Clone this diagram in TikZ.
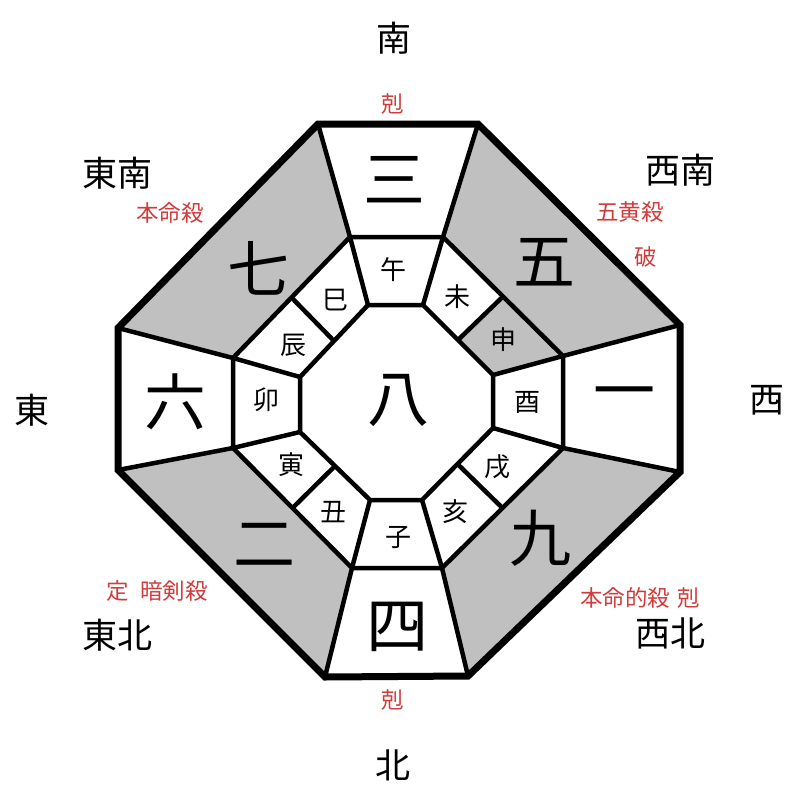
\documentclass[tikz,border=0pt]{standalone}
\usepackage{fontspec}
\newfontfamily\cjk{Noto Sans CJK JP}
\usepackage{tikz}
\usetikzlibrary{calc}
\usepackage{xcolor}
\definecolor{shadegray}{RGB}{192,192,192}
\definecolor{notered}{RGB}{208,60,60}

\begin{document}
\begin{tikzpicture}[
  x=1pt, y=-1pt,
  rim/.style={draw, line width=7pt},
  wall/.style={draw, line width=4.5pt},
  shade/.style={fill=shadegray},
  numeral/.style={inner sep=0, font=\cjk\fontsize{62}{62}\selectfont},
  branch/.style={inner sep=0, font=\cjk\fontsize{26}{26}\selectfont},
  compass/.style={inner sep=0, font=\cjk\fontsize{35}{35}\selectfont},
  remark/.style={inner sep=0, text=notered, font=\cjk\fontsize{22.5}{22.5}\selectfont}
]
\useasboundingbox (0,0) rectangle (800,800);

% Outer octagon
\coordinate (o1) at (318,124);
\coordinate (o2) at (478,124);
\coordinate (o3) at (680,325);
\coordinate (o4) at (680,472);
\coordinate (o5) at (468,676);
\coordinate (o6) at (325,677);
\coordinate (o7) at (118,470);
\coordinate (o8) at (118,328);

% Middle octagon
\coordinate (m1) at (350,237);
\coordinate (m2) at (443,237);
\coordinate (m3) at (563,356);
\coordinate (m4) at (563,448);
\coordinate (m5) at (442,568);
\coordinate (m6) at (352,568);
\coordinate (m7) at (233,448);
\coordinate (m8) at (233,358);

% Inner octagon
\coordinate (i1) at (368,305);
\coordinate (i2) at (423,305);
\coordinate (i3) at (493,375);
\coordinate (i4) at (493,428);
\coordinate (i5) at (422,500);
\coordinate (i6) at (370,500);
\coordinate (i7) at (300,432);
\coordinate (i8) at (300,377);

% Split points of the diagonal cells
\coordinate (s1) at ($(m2)!0.5!(m3)$);
\coordinate (t1) at ($(i2)!0.5!(i3)$);
\coordinate (s2) at ($(m4)!0.5!(m5)$);
\coordinate (t2) at ($(i4)!0.5!(i5)$);
\coordinate (s3) at ($(m6)!0.5!(m7)$);
\coordinate (t3) at ($(i6)!0.5!(i7)$);
\coordinate (s4) at ($(m8)!0.5!(m1)$);
\coordinate (t4) at ($(i8)!0.5!(i1)$);

% Grey cells
\path[shade] (o8) -- (o1) -- (m1) -- (m8) -- cycle;
\path[shade] (o2) -- (o3) -- (m3) -- (m2) -- cycle;
\path[shade] (o4) -- (o5) -- (m5) -- (m4) -- cycle;
\path[shade] (o6) -- (o7) -- (m7) -- (m6) -- cycle;
\path[shade] (s1) -- (m3) -- (i3) -- (t1) -- cycle;

% Walls
\draw[wall] (m1) -- (m2) -- (m3) -- (m4) -- (m5) -- (m6) -- (m7) -- (m8) -- cycle;
\draw[wall] (i1) -- (i2) -- (i3) -- (i4) -- (i5) -- (i6) -- (i7) -- (i8) -- cycle;
\draw[wall] (o1) -- (m1) -- (i1);
\draw[wall] (o2) -- (m2) -- (i2);
\draw[wall] (o3) -- (m3) -- (i3);
\draw[wall] (o4) -- (m4) -- (i4);
\draw[wall] (o5) -- (m5) -- (i5);
\draw[wall] (o6) -- (m6) -- (i6);
\draw[wall] (o7) -- (m7) -- (i7);
\draw[wall] (o8) -- (m8) -- (i8);
\draw[wall] (s1) -- (t1);
\draw[wall] (s2) -- (t2);
\draw[wall] (s3) -- (t3);
\draw[wall] (s4) -- (t4);
\draw[rim] (o1) -- (o2) -- (o3) -- (o4) -- (o5) -- (o6) -- (o7) -- (o8) -- cycle;

% Stars
\node[numeral] (centre) at (398,400) {八};
\node[numeral] (starS) at (394,180) {三};
\node[numeral] (starSW) at (544,262) {五};
\node[numeral] (starW) at (624,400) {一};
\node[numeral] (starNW) at (540,538) {九};
\node[numeral] (starN) at (397,627) {四};
\node[numeral] (starNE) at (264,545) {二};
\node[numeral] (starE) at (175,402) {六};
\node[numeral] (starSE) at (258,268) {七};

% Branches
\node[branch] (uma) at (393,270) {午};
\node[branch] (hitsuji) at (457,297) {未};
\node[branch] (saru) at (503,340) {申};
\node[branch] (tori) at (527,402) {酉};
\node[branch] (inu) at (497,467) {戌};
\node[branch] (i) at (455,512) {亥};
\node[branch] (ne) at (398,537) {子};
\node[branch] (ushi) at (333,512) {丑};
\node[branch] (tora) at (291,465) {寅};
\node[branch] (u) at (266,400) {卯};
\node[branch] (tatsu) at (293,345) {辰};
\node[branch] (mi) at (335,300) {巳};

% Directions
\node[compass] (south) at (394,38) {南};
\node[compass] (southeast) at (117,173) {東南};
\node[compass] (southwest) at (680,170) {西南};
\node[compass] (east) at (32,410) {東};
\node[compass] (west) at (767,400) {西};
\node[compass] (northeast) at (117,635) {東北};
\node[compass] (northwest) at (670,633) {西北};
\node[compass] (north) at (393,765) {北};

% Remarks
\node[remark] (southMark) at (393,104) {剋};
\node[remark] (southeastMark) at (170,213) {本命殺};
\node[remark] (southwestMark) at (630,212) {五黄殺};
\node[remark] (southwestBreak) at (646,257) {破};
\node[remark] (northeastMark) at (157,591) {定\hspace{0.5em}暗剣殺};
\node[remark] (northwestMark) at (640,598) {本命的殺\hspace{0.3em}剋};
\node[remark] (northMark) at (393,700) {剋};

\end{tikzpicture}
\end{document}
